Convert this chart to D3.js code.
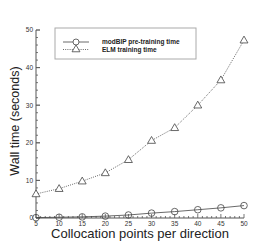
<!DOCTYPE html>
<html>
<head>
<meta charset="utf-8">
<script src="https://cdn.jsdelivr.net/npm/d3@7"></script>
<style>
  body { margin: 0; background: #fff; }
  text { font-family: "Liberation Sans", Arial, sans-serif; }
</style>
</head>
<body>
<script>
// chart data
const points = [5, 10, 15, 20, 25, 30, 35, 40, 45, 50];
const modbipTime = [0.1, 0.2, 0.3, 0.5, 0.8, 1.3, 1.7, 2.2, 2.7, 3.3];
const elmTime = [6.4, 7.8, 9.8, 12.0, 15.5, 20.6, 24.0, 30.0, 36.7, 47.3];
const xTicks = [5, 10, 15, 20, 25, 30, 35, 40, 45, 50];
const yTicks = [0, 10, 20, 30, 40, 50];
const seriesNames = ["modBIP pre-training time", "ELM training time"];

const width = 277, height = 246;
const plotLeft = 36, plotRight = 244, plotTop = 30, plotBottom = 218;

const svg = d3.select("body").append("svg")
  .attr("width", width).attr("height", height);

const x = d3.scaleLinear().domain([5, 50]).range([plotLeft, plotRight]);
const y = d3.scaleLinear().domain([0, 50]).range([plotBottom, plotTop]);

const axisColor = "#555";

// x axis, ticks pointing inward
const gx = svg.append("g").attr("transform", `translate(0,${plotBottom})`);
gx.append("line").attr("x1", plotLeft).attr("x2", plotRight).attr("stroke", axisColor);
gx.selectAll(".minor").data(d3.range(5, 51, 1)).join("line")
  .attr("x1", d => x(d)).attr("x2", d => x(d))
  .attr("y1", 0).attr("y2", d => xTicks.includes(d) ? -4 : -2)
  .attr("stroke", axisColor).attr("stroke-width", 0.8);
gx.selectAll(".lbl").data(xTicks).join("text")
  .attr("x", d => x(d)).attr("y", 8)
  .attr("text-anchor", "middle").attr("font-size", 6.5).attr("fill", "#333")
  .text(d => d);

// y axis
const gy = svg.append("g").attr("transform", `translate(${plotLeft},0)`);
gy.append("line").attr("y1", plotTop).attr("y2", plotBottom).attr("stroke", axisColor);
gy.selectAll(".minor").data(d3.range(0, 51, 2).concat(yTicks)).join("line")
  .attr("y1", d => y(d)).attr("y2", d => y(d))
  .attr("x1", 0).attr("x2", d => d % 10 === 0 ? 4 : 2)
  .attr("stroke", axisColor).attr("stroke-width", 0.8);
gy.selectAll(".lbl").data(yTicks).join("text")
  .attr("x", -3).attr("y", d => y(d) + 2.3)
  .attr("text-anchor", "end").attr("font-size", 6.5).attr("fill", "#333")
  .text(d => d);

// axis titles
svg.append("text")
  .attr("x", 140).attr("y", 238)
  .attr("text-anchor", "middle").attr("font-size", 13).attr("fill", "#222")
  .text("Collocation points per direction");
svg.append("text")
  .attr("transform", "translate(19,121) rotate(-90)")
  .attr("text-anchor", "middle").attr("font-size", 12.5).attr("fill", "#222")
  .text("Wall time (seconds)");

const line = d3.line().x((d, i) => x(points[i])).y(d => y(d));
const lineColor = "#444";

// modBIP: solid line, circles
svg.append("path").datum(modbipTime)
  .attr("d", line).attr("fill", "none")
  .attr("stroke", lineColor).attr("stroke-width", 0.8);
svg.selectAll(".circ").data(modbipTime).join("circle")
  .attr("cx", (d, i) => x(points[i])).attr("cy", d => y(d))
  .attr("r", 3.3).attr("fill", "none").attr("stroke", lineColor).attr("stroke-width", 0.8);

// ELM: dotted line, triangles
const tri = d3.symbol().type(d3.symbolTriangle).size(27);
svg.append("path").datum(elmTime)
  .attr("d", line).attr("fill", "none")
  .attr("stroke", lineColor).attr("stroke-width", 0.8)
  .attr("stroke-dasharray", "1,1.2");
svg.selectAll(".tri").data(elmTime).join("path")
  .attr("d", tri)
  .attr("transform", (d, i) => `translate(${x(points[i])},${y(d) + 0.5})`)
  .attr("fill", "white").attr("stroke", lineColor).attr("stroke-width", 0.8);

// legend
const lg = svg.append("g");
lg.append("rect").attr("x", 55).attr("y", 28).attr("width", 141).attr("height", 31)
  .attr("fill", "white").attr("stroke", "#aaa").attr("stroke-width", 1);
seriesNames.forEach((name, i) => {
  const ly = 42 + i * 7.5;
  lg.append("line").attr("x1", 63).attr("x2", 89).attr("y1", ly).attr("y2", ly)
    .attr("stroke", lineColor).attr("stroke-width", 0.8)
    .attr("stroke-dasharray", i === 1 ? "1,1.2" : null);
  if (i === 0) {
    lg.append("circle").attr("cx", 76).attr("cy", ly).attr("r", 3)
      .attr("fill", "white").attr("stroke", lineColor).attr("stroke-width", 0.8);
  } else {
    lg.append("path").attr("d", tri).attr("transform", `translate(76,${ly})`)
      .attr("fill", "white").attr("stroke", lineColor).attr("stroke-width", 0.8);
  }
  lg.append("text").attr("x", 102).attr("y", ly + 2.3)
    .attr("font-size", 6.5).attr("font-weight", "bold").attr("fill", "#222")
    .text(name);
});
</script>
</body>
</html>
